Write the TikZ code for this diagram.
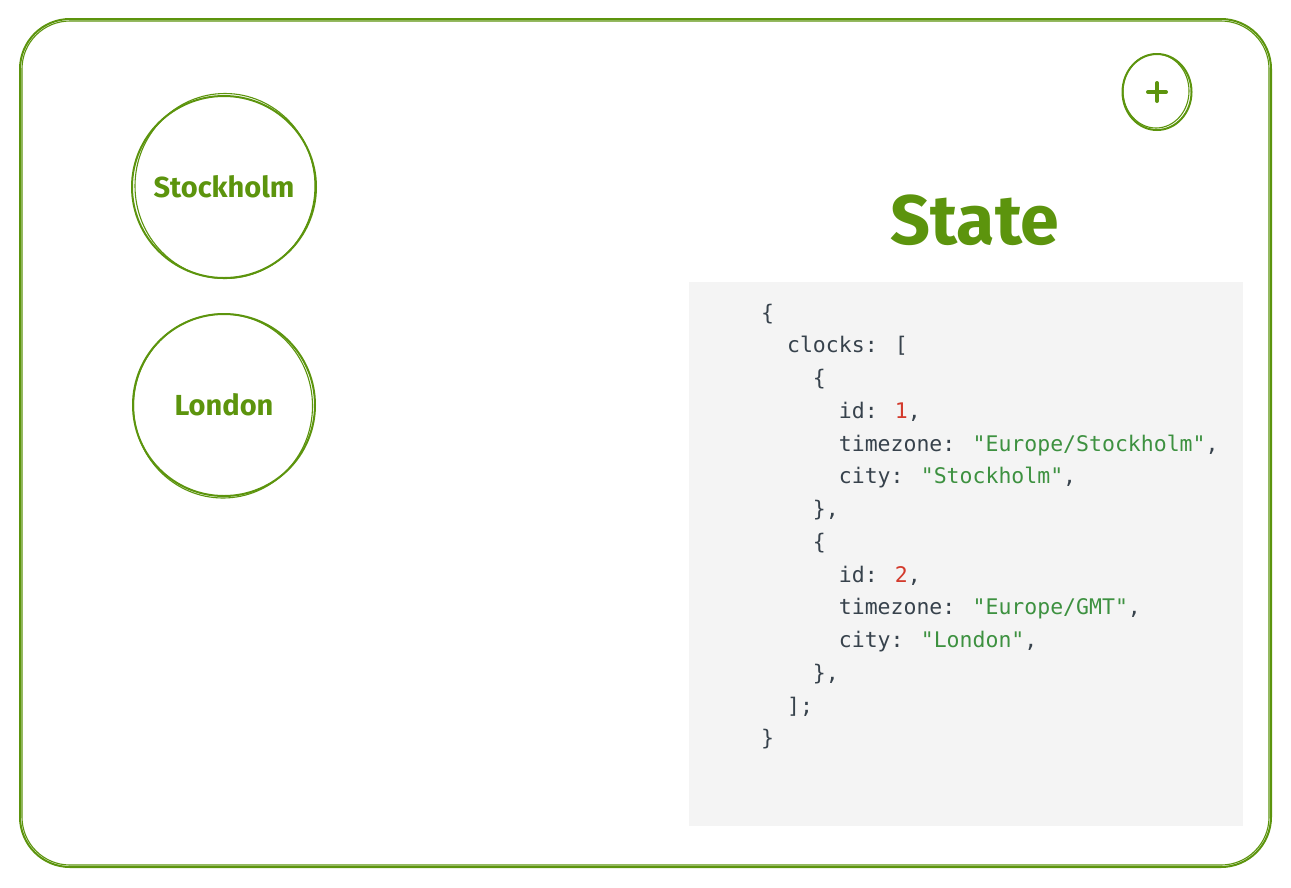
\documentclass[tikz,border=0pt]{standalone}
\usepackage{fontspec}
\setmainfont{Fira Sans}
\newfontfamily\codefont{DejaVu Sans Mono}
\newfontfamily\handfont{Fira Sans}
\definecolor{exgreen}{HTML}{5C940D}
\definecolor{codebg}{HTML}{F4F4F4}
\definecolor{codefg}{HTML}{37424C}
\definecolor{codestr}{HTML}{3D9140}
\definecolor{codenum}{HTML}{D33A2C}
\begin{document}
\begin{tikzpicture}[x=1pt,y=-1pt,
  sketch/.style={draw=exgreen,line width=2pt,line cap=round},
  sketchthin/.style={draw=exgreen,line width=1.1pt,line cap=round},
  codeline/.style={anchor=base west,inner sep=0pt,text=codefg,font=\codefont\fontsize{21.5}{24}\selectfont},
  label/.style={text=exgreen,font=\handfont\bfseries\fontsize{29}{34}\selectfont}]
\useasboundingbox (0,0) rectangle (1291,887);
% outer frame
\draw[sketch,rounded corners=50] (20,19) rectangle (1271,867);
\draw[sketchthin,rounded corners=48] (22,21) rectangle (1269,865);
% code box
\node[fill=codebg,minimum width=554,minimum height=544,inner sep=0,anchor=north west] (codebox) at (689,282) {};
% circles
\node[circle,minimum size=184,inner sep=0] (sto) at (224,187) {};
\draw[sketch] (224,187) ellipse [x radius=92,y radius=91];
\draw[sketchthin] (225,186) ellipse [x radius=90,y radius=92.5];
\node[label] at (sto) {Stockholm};
\node[circle,minimum size=182,inner sep=0] (lon) at (224,405) {};
\draw[sketch] (224,405) ellipse [x radius=91,y radius=91];
\draw[sketchthin] (223,406) ellipse [x radius=89.5,y radius=92];
\node[label] at (lon) {London};
\node[circle,minimum size=70,inner sep=0] (add) at (1157,92) {};
\draw[sketch] (1157,92) ellipse [x radius=34.5,y radius=38];
\draw[sketchthin] (1156,91) ellipse [x radius=33,y radius=37];
\draw[draw=exgreen,line width=4pt,line cap=round] ([xshift=-9pt]add.center) -- ([xshift=9pt]add.center);
\draw[draw=exgreen,line width=4pt,line cap=round] ([yshift=-9pt]add.center) -- ([yshift=9pt]add.center);
% title
\node[text=exgreen,font=\handfont\bfseries\fontsize{70}{76}\selectfont] (title) at (975,220) {State};
% code
\def\ly#1{320+32.75*#1}
\node[codeline] (l0) at (761,{\ly{0}}) {\{};
\node[codeline] (l1) at (761,{\ly{1}}) {\ \ clocks: [};
\node[codeline] (l2) at (761,{\ly{2}}) {\ \ \ \ \{};
\node[codeline] (l3) at (761,{\ly{3}}) {\ \ \ \ \ \ id: \textcolor{codenum}{1},};
\node[codeline] (l4) at (761,{\ly{4}}) {\ \ \ \ \ \ timezone: \textcolor{codestr}{"Europe/Stockholm"},};
\node[codeline] (l5) at (761,{\ly{5}}) {\ \ \ \ \ \ city: \textcolor{codestr}{"Stockholm"},};
\node[codeline] (l6) at (761,{\ly{6}}) {\ \ \ \ \},};
\node[codeline] (l7) at (761,{\ly{7}}) {\ \ \ \ \{};
\node[codeline] (l8) at (761,{\ly{8}}) {\ \ \ \ \ \ id: \textcolor{codenum}{2},};
\node[codeline] (l9) at (761,{\ly{9}}) {\ \ \ \ \ \ timezone: \textcolor{codestr}{"Europe/GMT"},};
\node[codeline] (l10) at (761,{\ly{10}}) {\ \ \ \ \ \ city: \textcolor{codestr}{"London"},};
\node[codeline] (l11) at (761,{\ly{11}}) {\ \ \ \ \},};
\node[codeline] (l12) at (761,{\ly{12}}) {\ \ ];};
\node[codeline] (l13) at (761,{\ly{13}}) {\}};
\end{tikzpicture}
\end{document}
